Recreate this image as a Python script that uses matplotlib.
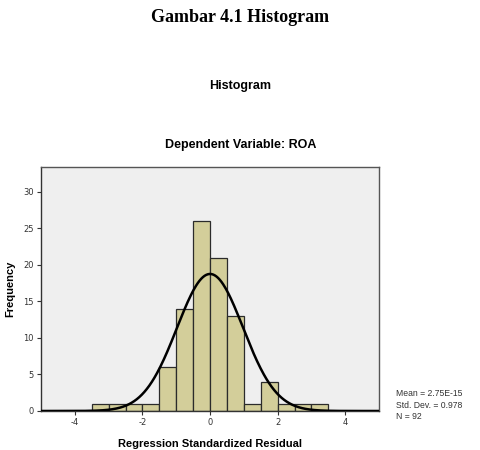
import numpy as np
import matplotlib
matplotlib.use('Agg')
import matplotlib.pyplot as plt

plt.rcParams['axes.unicode_minus'] = False

# Histogram bins (left edges, width 0.5) and counts
bin_edges = [-3.5, -3.0, -2.5, -2.0, -1.5, -1.0, -0.5, 0.0, 0.5, 1.0, 1.5, 2.0, 2.5, 3.0, 3.5]
counts = [1, 1, 1, 1, 6, 14, 26, 21, 13, 1, 4, 1, 1, 1]
mean = 2.75e-15
std = 0.978
n = 92

fig = plt.figure(figsize=(4.81, 4.5), dpi=100)
ax = fig.add_axes([0.0852, 0.0867, 0.703, 0.542])
ax.set_facecolor('#efefef')

lefts = np.array(bin_edges[:-1])
widths = np.diff(bin_edges)
ax.bar(lefts, counts, width=widths, align='edge', color='#d3ce9a',
       edgecolor='#2b2b2b', linewidth=0.9, zorder=2)

# fitted normal curve
xs = np.linspace(-5, 5, 400)
bw = widths[0]
ys = n * bw / (std * np.sqrt(2 * np.pi)) * np.exp(-0.5 * ((xs - mean) / std) ** 2)
ax.plot(xs, ys, color='black', linewidth=1.8, zorder=3)

ax.set_xlim(-5, 5)
ax.set_ylim(0, 33.4)
ax.set_xticks([-4, -2, 0, 2, 4])
ax.set_yticks([0, 5, 10, 15, 20, 25, 30])
ax.tick_params(labelsize=6, colors='#333333', length=3, width=0.8, pad=2)
for s in ['left', 'bottom']:
    ax.spines[s].set_color('#333333')
    ax.spines[s].set_linewidth(1.0)
for s in ['top', 'right']:
    ax.spines[s].set_color('#555555')
    ax.spines[s].set_linewidth(1.0)

ax.set_xlabel('Regression Standardized Residual', fontsize=8, fontweight='bold',
              family='Liberation Sans', labelpad=9)
ax.set_ylabel('Frequency', fontsize=8, fontweight='bold', family='Liberation Sans',
              labelpad=6)

fig.text(0.5, 0.962, 'Gambar 4.1 Histogram', ha='center', va='center',
         fontsize=13, fontweight='bold', family='Liberation Serif')
fig.text(0.5, 0.808, 'Histogram', ha='center', va='center',
         fontsize=9, fontweight='bold', family='Liberation Sans')
fig.text(0.5, 0.678, 'Dependent Variable: ROA', ha='center', va='center',
         fontsize=9, fontweight='bold', family='Liberation Sans')

fig.text(0.823, 0.1, 'Mean = 2.75E-15\nStd. Dev. = 0.978\nN = 92', ha='left', va='center',
         fontsize=6.2, family='Liberation Sans', color='#333333', linespacing=1.4)

fig.savefig('out.png', dpi=100)
